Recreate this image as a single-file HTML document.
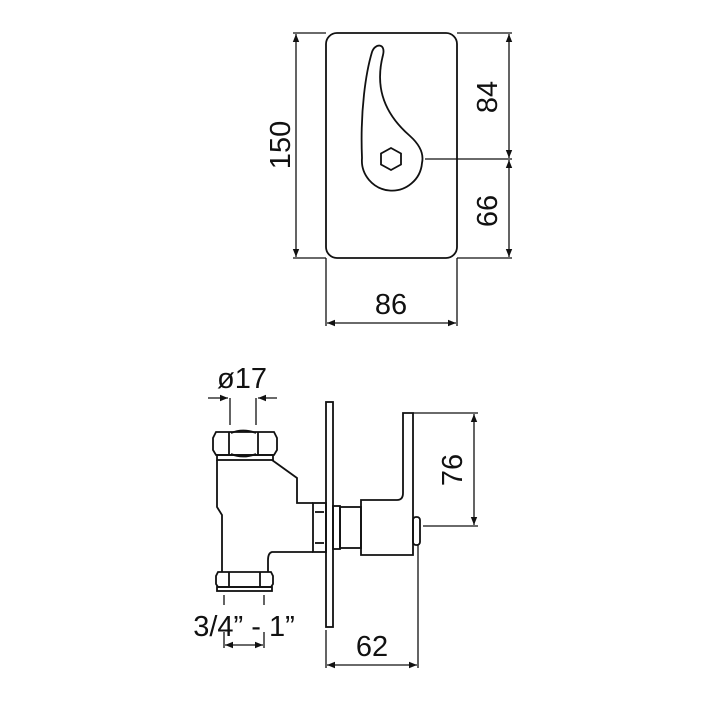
<!DOCTYPE html>
<html><head><meta charset="utf-8"><style>html,body{margin:0;padding:0;background:#fff}svg{display:block}</style></head>
<body>
<svg width="704" height="704" viewBox="0 0 704 704" xmlns="http://www.w3.org/2000/svg">
<defs>
<marker id="a" viewBox="0 0 10 10" refX="10" refY="5" markerWidth="10" markerHeight="8" orient="auto-start-reverse" markerUnits="userSpaceOnUse"><path d="M0,1 L10,5 L0,9 Z" fill="#111"/></marker>
</defs>
<g fill="none" stroke="#111" stroke-width="1.8">
<rect x="326" y="33" width="131" height="225" rx="11"/>
<path d="M362 158 C360 110 366 72 372 52 C375 43 386 43 383 55 C376 82 380 110 410 136 C420 145 424 154 422 163 A30 30 0 0 1 362 158 Z"/>
<polygon points="391,148 401,153.5 401,164.5 391,170 381,164.5 381,153.5"/>
<g stroke-width="1.3">
<line x1="293" y1="33" x2="326" y2="33"/><line x1="293" y1="258" x2="326" y2="258"/>
<line x1="296" y1="34" x2="296" y2="257" marker-start="url(#a)" marker-end="url(#a)"/>
<line x1="457" y1="33" x2="512" y2="33"/><line x1="457" y1="258" x2="512" y2="258"/>
<line x1="425" y1="159" x2="512" y2="159"/>
<line x1="509" y1="34" x2="509" y2="158" marker-start="url(#a)" marker-end="url(#a)"/>
<line x1="509" y1="160" x2="509" y2="257" marker-start="url(#a)" marker-end="url(#a)"/>
<line x1="326" y1="258" x2="326" y2="326"/><line x1="457" y1="258" x2="457" y2="326"/>
<line x1="327" y1="323" x2="456" y2="323" marker-start="url(#a)" marker-end="url(#a)"/>
</g>
<rect x="326" y="402" width="7" height="225"/>
<path d="M216 432 L213 438 L213 450 L216 455 L274 455 L277 450 L277 438 L274 432 Z"/>
<line x1="229" y1="432" x2="229" y2="455"/><line x1="258" y1="432" x2="258" y2="455"/>
<path d="M231 433 Q243 428 256 433 M231 454 Q243 459 256 454"/>
<rect x="217" y="455" width="56" height="5"/>
<path d="M217 460 L217 507 L222 515 L222 572 M272 460 L297 478 L297 503 L313 503 M313 552 L272 552 Q268 553 268 560 L268 572"/>
<path d="M218 572 L216 576 L216 584 L218 587 L271 587 L273 584 L273 576 L271 572 Z"/>
<line x1="229" y1="572" x2="229" y2="587"/><line x1="260" y1="572" x2="260" y2="587"/>
<rect x="217" y="587" width="55" height="4"/>
<rect x="313" y="503" width="13" height="49"/>
<line x1="315" y1="512" x2="324" y2="512"/><line x1="315" y1="543" x2="324" y2="543"/>
<rect x="333" y="506" width="7" height="43"/>
<rect x="340" y="507" width="21" height="41"/>
<path d="M361 500 L397 500 Q403 500 403 493 L403 413 L413 413 L413 555 L361 555 Z"/>
<rect x="413" y="517" width="7" height="28" rx="3"/>
<g stroke-width="1.3">
<line x1="208" y1="398" x2="228" y2="398" marker-end="url(#a)"/>
<line x1="277" y1="398" x2="258" y2="398" marker-end="url(#a)"/>
<line x1="230" y1="398" x2="230" y2="425"/><line x1="256" y1="398" x2="256" y2="425"/>
<line x1="224" y1="595" x2="224" y2="605"/><line x1="264" y1="595" x2="264" y2="605"/>
<line x1="224" y1="632" x2="224" y2="648"/><line x1="264" y1="632" x2="264" y2="648"/>
<line x1="225" y1="645" x2="263" y2="645" marker-start="url(#a)" marker-end="url(#a)"/>
<line x1="413" y1="413" x2="478" y2="413"/><line x1="423" y1="526" x2="478" y2="526"/>
<line x1="474" y1="414" x2="474" y2="525" marker-start="url(#a)" marker-end="url(#a)"/>
<line x1="326" y1="630" x2="326" y2="668"/><line x1="418" y1="545" x2="418" y2="668"/>
<line x1="327" y1="665" x2="417" y2="665" marker-start="url(#a)" marker-end="url(#a)"/>
</g>
</g>
<g font-family="Liberation Sans, sans-serif" font-size="29" fill="#111" text-anchor="middle">
<text transform="translate(290,145) rotate(-90)">150</text>
<text transform="translate(497,97) rotate(-90)">84</text>
<text transform="translate(497,211) rotate(-90)">66</text>
<text x="391" y="314">86</text>
<text x="242" y="388">ø17</text>
<text x="244" y="636">3/4” - 1”</text>
<text transform="translate(462,470) rotate(-90)">76</text>
<text x="372" y="656">62</text>
</g>
</svg>
</body></html>
